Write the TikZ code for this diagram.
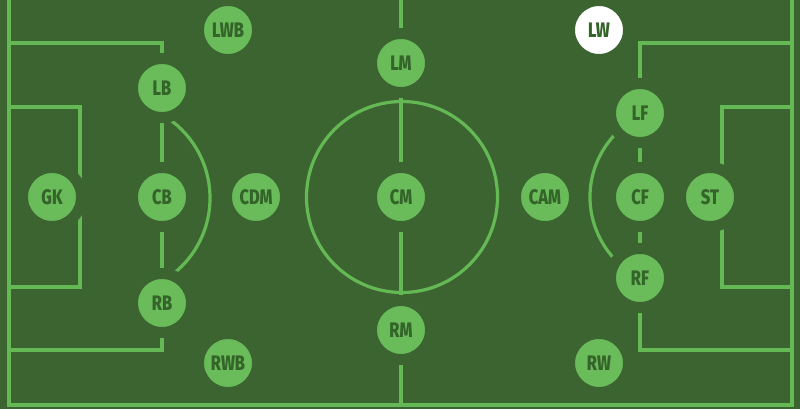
\documentclass[tikz,border=0pt]{standalone}
\usepackage{fontspec}
\newfontfamily\posfont{Fira Sans}[UprightFont={* ExtraBold}, FakeStretch=0.78]
\definecolor{bg}{RGB}{59,100,49}
\definecolor{pline}{RGB}{101,185,84}
\definecolor{nfill}{RGB}{106,188,90}
\definecolor{txt}{RGB}{52,100,42}
\tikzset{
  pitch/.style={draw=pline, line width=3.2pt},
  player/.style={circle, fill=nfill, draw=bg, line width=11pt, minimum size=59pt,
    inner sep=0pt, text=txt, font=\posfont\fontsize{21}{21}\selectfont},
  hlplayer/.style={player, fill=white}
}
\begin{document}
\begin{tikzpicture}[x=1pt,y=-1pt]
\useasboundingbox (0,0) rectangle (800,409);
\fill[bg] (0,0) rectangle (800,409);
% outer lines
\draw[pitch] (9,0) -- (9,405) -- (792,405) -- (792,0);
\draw[pitch] (401,0) -- (401,405);
% left boxes
\draw[pitch] (9,43) -- (162,43) -- (162,350) -- (9,350);
\draw[pitch] (9,107) -- (80,107) -- (80,287) -- (9,287);
\draw[pitch] (113.4,198) ++(-60:96.6) arc[start angle=-60, end angle=60, radius=96.6];
% centre circle
\draw[pitch] (402,197) circle[radius=95.5];
% right boxes
\draw[pitch] (792,43) -- (640,43) -- (640,350) -- (792,350);
\draw[pitch] (792,107) -- (722,107) -- (722,287) -- (792,287);
\draw[pitch] (680.6,197) ++(116:90.6) arc[start angle=116, end angle=244, radius=90.6];
% positions
\node[player] (GK)  at (52,197)  {GK};
\node[player] (LB)  at (162,88)  {LB};
\node[player] (CB)  at (162,197) {CB};
\node[player] (RB)  at (162,303) {RB};
\node[player] (LWB) at (228,30)  {LWB};
\node[player] (RWB) at (228,363) {RWB};
\node[player] (CDM) at (256,197) {CDM};
\node[player] (LM)  at (401,63)  {LM};
\node[player] (CM)  at (401,197) {CM};
\node[player] (RM)  at (401,330) {RM};
\node[player] (CAM) at (545,197) {CAM};
\node[hlplayer] (LW) at (599,30) {LW};
\node[player] (RW)  at (599,363) {RW};
\node[player] (LF)  at (640,113) {LF};
\node[player] (CF)  at (640,197) {CF};
\node[player] (RF)  at (640,278) {RF};
\node[player] (ST)  at (710,197) {ST};
\end{tikzpicture}
\end{document}
